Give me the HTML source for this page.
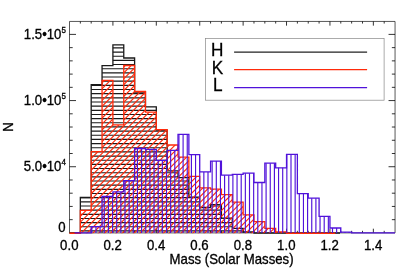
<!DOCTYPE html>
<html><head><meta charset="utf-8"><title>Mass histogram</title>
<style>html,body{margin:0;padding:0;background:#fff;}svg{display:block;will-change:transform;}</style></head>
<body>
<svg width="415" height="277" viewBox="0 0 415 277">
<rect width="100%" height="100%" fill="#fff"/>
<defs><clipPath id="ch"><polygon points="69.50,233.00 69.50,233.00 80.35,233.00 80.35,197.50 91.20,197.50 91.20,84.70 102.06,84.70 102.06,65.60 112.91,65.60 112.91,44.80 123.76,44.80 123.76,58.00 134.61,58.00 134.61,92.00 145.46,92.00 145.46,106.80 156.31,106.80 156.31,130.20 167.16,130.20 167.16,170.90 178.02,170.90 178.02,177.60 188.87,177.60 188.87,197.20 199.72,197.20 199.72,207.50 210.57,207.50 210.57,204.70 221.42,204.70 221.42,218.20 232.28,218.20 232.28,228.40 243.13,228.40 243.13,232.00 253.98,232.00 253.98,233.00 264.83,233.00 264.83,233.00 275.68,233.00 275.68,233.00 286.53,233.00 286.53,233.00 297.38,233.00 297.38,233.00 308.24,233.00 308.24,233.00 319.09,233.00 319.09,233.00 329.94,233.00 329.94,233.00 340.79,233.00 340.79,233.00 351.64,233.00 351.64,233.00 362.50,233.00 362.50,233.00 373.35,233.00 373.35,233.00 384.20,233.00 384.20,233.00 395.05,233.00 395.05,233.00"/></clipPath><clipPath id="ck"><polygon points="69.50,233.25 69.50,233.25 80.35,233.25 80.35,210.30 91.20,210.30 91.20,151.60 102.06,151.60 102.06,80.40 112.91,80.40 112.91,124.90 123.76,124.90 123.76,65.50 134.61,65.50 134.61,91.50 145.46,91.50 145.46,112.20 156.31,112.20 156.31,129.70 167.16,129.70 167.16,145.00 178.02,145.00 178.02,157.20 188.87,157.20 188.87,176.40 199.72,176.40 199.72,187.80 210.57,187.80 210.57,189.20 221.42,189.20 221.42,194.70 232.28,194.70 232.28,202.20 243.13,202.20 243.13,214.90 253.98,214.90 253.98,221.60 264.83,221.60 264.83,228.40 275.68,228.40 275.68,231.90 286.53,231.90 286.53,233.25 297.38,233.25 297.38,233.25 308.24,233.25 308.24,233.25 319.09,233.25 319.09,233.25 329.94,233.25 329.94,233.25 340.79,233.25 340.79,233.25 351.64,233.25 351.64,233.25 362.50,233.25 362.50,233.25 373.35,233.25 373.35,233.25 384.20,233.25 384.20,233.25 395.05,233.25 395.05,233.25"/></clipPath><clipPath id="cl"><polygon points="69.50,232.90 69.50,232.90 80.35,232.90 80.35,232.90 91.20,232.90 91.20,226.70 102.06,226.70 102.06,196.50 112.91,196.50 112.91,191.90 123.76,191.90 123.76,180.70 134.61,180.70 134.61,148.50 145.46,148.50 145.46,149.30 156.31,149.30 156.31,160.40 167.16,160.40 167.16,150.30 178.02,150.30 178.02,134.30 188.87,134.30 188.87,154.70 199.72,154.70 199.72,171.90 210.57,171.90 210.57,161.10 221.42,161.10 221.42,175.20 232.28,175.20 232.28,174.30 243.13,174.30 243.13,173.20 253.98,173.20 253.98,182.50 264.83,182.50 264.83,163.20 275.68,163.20 275.68,167.80 286.53,167.80 286.53,154.40 297.38,154.40 297.38,193.60 308.24,193.60 308.24,198.20 319.09,198.20 319.09,216.30 329.94,216.30 329.94,228.00 340.79,228.00 340.79,232.10 351.64,232.10 351.64,232.90 362.50,232.90 362.50,232.90 373.35,232.90 373.35,232.90 384.20,232.90 384.20,232.90 395.05,232.90 395.05,232.90"/></clipPath></defs>
<path d="M69.50,21.45 H395.05 V232.90 H69.50 Z" fill="none" stroke="#111" stroke-width="0.7"/>
<path d="M80.35,21.45 v2.10 M80.35,232.90 v-2.10 M91.20,21.45 v2.10 M91.20,232.90 v-2.10 M102.06,21.45 v2.10 M102.06,232.90 v-2.10 M112.91,21.45 v4.20 M112.91,232.90 v-4.20 M123.76,21.45 v2.10 M123.76,232.90 v-2.10 M134.61,21.45 v2.10 M134.61,232.90 v-2.10 M145.46,21.45 v2.10 M145.46,232.90 v-2.10 M156.31,21.45 v4.20 M156.31,232.90 v-4.20 M167.16,21.45 v2.10 M167.16,232.90 v-2.10 M178.02,21.45 v2.10 M178.02,232.90 v-2.10 M188.87,21.45 v2.10 M188.87,232.90 v-2.10 M199.72,21.45 v4.20 M199.72,232.90 v-4.20 M210.57,21.45 v2.10 M210.57,232.90 v-2.10 M221.42,21.45 v2.10 M221.42,232.90 v-2.10 M232.28,21.45 v2.10 M232.28,232.90 v-2.10 M243.13,21.45 v4.20 M243.13,232.90 v-4.20 M253.98,21.45 v2.10 M253.98,232.90 v-2.10 M264.83,21.45 v2.10 M264.83,232.90 v-2.10 M275.68,21.45 v2.10 M275.68,232.90 v-2.10 M286.53,21.45 v4.20 M286.53,232.90 v-4.20 M297.38,21.45 v2.10 M297.38,232.90 v-2.10 M308.24,21.45 v2.10 M308.24,232.90 v-2.10 M319.09,21.45 v2.10 M319.09,232.90 v-2.10 M329.94,21.45 v4.20 M329.94,232.90 v-4.20 M340.79,21.45 v2.10 M340.79,232.90 v-2.10 M351.64,21.45 v2.10 M351.64,232.90 v-2.10 M362.50,21.45 v2.10 M362.50,232.90 v-2.10 M373.35,21.45 v4.20 M373.35,232.90 v-4.20 M384.20,21.45 v2.10 M384.20,232.90 v-2.10 M69.50,219.67 h3.20 M395.05,219.67 h-3.20 M69.50,206.43 h3.20 M395.05,206.43 h-3.20 M69.50,193.20 h3.20 M395.05,193.20 h-3.20 M69.50,179.97 h3.20 M395.05,179.97 h-3.20 M69.50,166.73 h6.50 M395.05,166.73 h-6.50 M69.50,153.50 h3.20 M395.05,153.50 h-3.20 M69.50,140.27 h3.20 M395.05,140.27 h-3.20 M69.50,127.03 h3.20 M395.05,127.03 h-3.20 M69.50,113.80 h3.20 M395.05,113.80 h-3.20 M69.50,100.57 h6.50 M395.05,100.57 h-6.50 M69.50,87.33 h3.20 M395.05,87.33 h-3.20 M69.50,74.10 h3.20 M395.05,74.10 h-3.20 M69.50,60.87 h3.20 M395.05,60.87 h-3.20 M69.50,47.63 h3.20 M395.05,47.63 h-3.20 M69.50,34.40 h6.50 M395.05,34.40 h-6.50" fill="none" stroke="#000" stroke-width="0.8"/>
<g clip-path="url(#ch)"><path d="M60,22.94 H400 M60,27.10 H400 M60,31.26 H400 M60,35.42 H400 M60,39.58 H400 M60,43.74 H400 M60,47.90 H400 M60,52.06 H400 M60,56.22 H400 M60,60.38 H400 M60,64.54 H400 M60,68.70 H400 M60,72.86 H400 M60,77.02 H400 M60,81.18 H400 M60,85.34 H400 M60,89.50 H400 M60,93.66 H400 M60,97.82 H400 M60,101.98 H400 M60,106.14 H400 M60,110.30 H400 M60,114.46 H400 M60,118.62 H400 M60,122.78 H400 M60,126.94 H400 M60,131.10 H400 M60,135.26 H400 M60,139.42 H400 M60,143.58 H400 M60,147.74 H400 M60,151.90 H400 M60,156.06 H400 M60,160.22 H400 M60,164.38 H400 M60,168.54 H400 M60,172.70 H400 M60,176.86 H400 M60,181.02 H400 M60,185.18 H400 M60,189.34 H400 M60,193.50 H400 M60,197.66 H400 M60,201.82 H400 M60,205.98 H400 M60,210.14 H400 M60,214.30 H400 M60,218.46 H400 M60,222.62 H400 M60,226.78 H400 M60,230.94 H400" stroke="#1a1a1a" stroke-width="1.15" fill="none"/></g>
<path d="M69.50,233.00 L80.35,233.00 L80.35,197.50 L91.20,197.50 L91.20,84.70 L102.06,84.70 L102.06,65.60 L112.91,65.60 L112.91,44.80 L123.76,44.80 L123.76,58.00 L134.61,58.00 L134.61,92.00 L145.46,92.00 L145.46,106.80 L156.31,106.80 L156.31,130.20 L167.16,130.20 L167.16,170.90 L178.02,170.90 L178.02,177.60 L188.87,177.60 L188.87,197.20 L199.72,197.20 L199.72,207.50 L210.57,207.50 L210.57,204.70 L221.42,204.70 L221.42,218.20 L232.28,218.20 L232.28,228.40 L243.13,228.40 L243.13,232.00 L253.98,232.00 L253.98,233.00 L264.83,233.00 L264.83,233.00 L275.68,233.00 L275.68,233.00 L286.53,233.00 L286.53,233.00 L297.38,233.00 L297.38,233.00 L308.24,233.00 L308.24,233.00 L319.09,233.00 L319.09,233.00 L329.94,233.00 L329.94,233.00 L340.00,233.00" stroke="#1a1a1a" stroke-width="1.3" fill="none"/>
<g clip-path="url(#ck)"><path d="M-408.11,240 L-178.11,10 M-402.23,240 L-172.23,10 M-396.34,240 L-166.34,10 M-390.46,240 L-160.46,10 M-384.58,240 L-154.58,10 M-378.69,240 L-148.69,10 M-372.81,240 L-142.81,10 M-366.93,240 L-136.93,10 M-361.05,240 L-131.05,10 M-355.16,240 L-125.16,10 M-349.28,240 L-119.28,10 M-343.40,240 L-113.40,10 M-337.51,240 L-107.51,10 M-331.63,240 L-101.63,10 M-325.75,240 L-95.75,10 M-319.87,240 L-89.86,10 M-313.98,240 L-83.98,10 M-308.10,240 L-78.10,10 M-302.22,240 L-72.22,10 M-296.33,240 L-66.33,10 M-290.45,240 L-60.45,10 M-284.57,240 L-54.57,10 M-278.68,240 L-48.68,10 M-272.80,240 L-42.80,10 M-266.92,240 L-36.92,10 M-261.03,240 L-31.03,10 M-255.15,240 L-25.15,10 M-249.27,240 L-19.27,10 M-243.39,240 L-13.39,10 M-237.50,240 L-7.50,10 M-231.62,240 L-1.62,10 M-225.74,240 L4.26,10 M-219.85,240 L10.15,10 M-213.97,240 L16.03,10 M-208.09,240 L21.91,10 M-202.20,240 L27.80,10 M-196.32,240 L33.68,10 M-190.44,240 L39.56,10 M-184.56,240 L45.44,10 M-178.67,240 L51.33,10 M-172.79,240 L57.21,10 M-166.91,240 L63.09,10 M-161.02,240 L68.98,10 M-155.14,240 L74.86,10 M-149.26,240 L80.74,10 M-143.38,240 L86.62,10 M-137.49,240 L92.51,10 M-131.61,240 L98.39,10 M-125.73,240 L104.27,10 M-119.84,240 L110.16,10 M-113.96,240 L116.04,10 M-108.08,240 L121.92,10 M-102.19,240 L127.81,10 M-96.31,240 L133.69,10 M-90.43,240 L139.57,10 M-84.54,240 L145.46,10 M-78.66,240 L151.34,10 M-72.78,240 L157.22,10 M-66.90,240 L163.10,10 M-61.01,240 L168.99,10 M-55.13,240 L174.87,10 M-49.25,240 L180.75,10 M-43.36,240 L186.64,10 M-37.48,240 L192.52,10 M-31.60,240 L198.40,10 M-25.71,240 L204.29,10 M-19.83,240 L210.17,10 M-13.95,240 L216.05,10 M-8.07,240 L221.93,10 M-2.18,240 L227.82,10 M3.70,240 L233.70,10 M9.58,240 L239.58,10 M15.47,240 L245.47,10 M21.35,240 L251.35,10 M27.23,240 L257.23,10 M33.12,240 L263.12,10 M39.00,240 L269.00,10 M44.88,240 L274.88,10 M50.76,240 L280.76,10 M56.65,240 L286.65,10 M62.53,240 L292.53,10 M68.41,240 L298.41,10 M74.30,240 L304.30,10 M80.18,240 L310.18,10 M86.06,240 L316.06,10 M91.94,240 L321.94,10 M97.83,240 L327.83,10 M103.71,240 L333.71,10 M109.59,240 L339.59,10 M115.48,240 L345.48,10 M121.36,240 L351.36,10 M127.24,240 L357.24,10 M133.13,240 L363.13,10 M139.01,240 L369.01,10 M144.89,240 L374.89,10 M150.77,240 L380.77,10 M156.66,240 L386.66,10 M162.54,240 L392.54,10 M168.42,240 L398.42,10 M174.31,240 L404.31,10 M180.19,240 L410.19,10 M186.07,240 L416.07,10 M191.96,240 L421.96,10 M197.84,240 L427.84,10 M203.72,240 L433.72,10 M209.60,240 L439.60,10 M215.49,240 L445.49,10 M221.37,240 L451.37,10 M227.25,240 L457.25,10 M233.14,240 L463.14,10 M239.02,240 L469.02,10 M244.90,240 L474.90,10 M250.79,240 L480.79,10 M256.67,240 L486.67,10 M262.55,240 L492.55,10 M268.43,240 L498.43,10 M274.32,240 L504.32,10 M280.20,240 L510.20,10 M286.08,240 L516.08,10 M291.97,240 L521.97,10 M297.85,240 L527.85,10 M303.73,240 L533.73,10 M309.62,240 L539.62,10 M315.50,240 L545.50,10 M321.38,240 L551.38,10 M327.26,240 L557.26,10 M333.15,240 L563.15,10 M339.03,240 L569.03,10 M344.91,240 L574.91,10 M350.80,240 L580.80,10 M356.68,240 L586.68,10 M362.56,240 L592.56,10 M368.45,240 L598.45,10 M374.33,240 L604.33,10 M380.21,240 L610.21,10 M386.10,240 L616.10,10 M391.98,240 L621.98,10 M397.86,240 L627.86,10 M403.74,240 L633.74,10 M409.63,240 L639.63,10 M415.51,240 L645.51,10 M421.39,240 L651.39,10 M427.28,240 L657.28,10 M433.16,240 L663.16,10 M439.04,240 L669.04,10 M444.93,240 L674.93,10 M450.81,240 L680.81,10 M456.69,240 L686.69,10" stroke="#ff2a0a" stroke-width="1.15" fill="none"/></g>
<path d="M69.50,233.25 L80.35,233.25 L80.35,210.30 L91.20,210.30 L91.20,151.60 L102.06,151.60 L102.06,80.40 L112.91,80.40 L112.91,124.90 L123.76,124.90 L123.76,65.50 L134.61,65.50 L134.61,91.50 L145.46,91.50 L145.46,112.20 L156.31,112.20 L156.31,129.70 L167.16,129.70 L167.16,145.00 L178.02,145.00 L178.02,157.20 L188.87,157.20 L188.87,176.40 L199.72,176.40 L199.72,187.80 L210.57,187.80 L210.57,189.20 L221.42,189.20 L221.42,194.70 L232.28,194.70 L232.28,202.20 L243.13,202.20 L243.13,214.90 L253.98,214.90 L253.98,221.60 L264.83,221.60 L264.83,228.40 L275.68,228.40 L275.68,231.90 L286.53,231.90 L286.53,233.25 L297.38,233.25 L297.38,233.25 L308.24,233.25 L308.24,233.25 L319.09,233.25 L319.09,233.25 L329.94,233.25 L329.94,233.25 L335.30,233.25" stroke="#ff2a0a" stroke-width="1.3" fill="none"/>
<g clip-path="url(#cl)"><path d="M71.05,10 V240 M75.20,10 V240 M79.35,10 V240 M83.50,10 V240 M87.65,10 V240 M91.80,10 V240 M95.95,10 V240 M100.10,10 V240 M104.25,10 V240 M108.40,10 V240 M112.55,10 V240 M116.70,10 V240 M120.85,10 V240 M125.00,10 V240 M129.15,10 V240 M133.30,10 V240 M137.45,10 V240 M141.60,10 V240 M145.75,10 V240 M149.90,10 V240 M154.05,10 V240 M158.20,10 V240 M162.35,10 V240 M166.50,10 V240 M170.65,10 V240 M174.80,10 V240 M178.95,10 V240 M183.10,10 V240 M187.25,10 V240 M191.40,10 V240 M195.55,10 V240 M199.70,10 V240 M203.85,10 V240 M208.00,10 V240 M212.15,10 V240 M216.30,10 V240 M220.45,10 V240 M224.60,10 V240 M228.75,10 V240 M232.90,10 V240 M237.05,10 V240 M241.20,10 V240 M245.35,10 V240 M249.50,10 V240 M253.65,10 V240 M257.80,10 V240 M261.95,10 V240 M266.10,10 V240 M270.25,10 V240 M274.40,10 V240 M278.55,10 V240 M282.70,10 V240 M286.85,10 V240 M291.00,10 V240 M295.15,10 V240 M299.30,10 V240 M303.45,10 V240 M307.60,10 V240 M311.75,10 V240 M315.90,10 V240 M320.05,10 V240 M324.20,10 V240 M328.35,10 V240 M332.50,10 V240 M336.65,10 V240 M340.80,10 V240 M344.95,10 V240 M349.10,10 V240 M353.25,10 V240 M357.40,10 V240 M361.55,10 V240 M365.70,10 V240 M369.85,10 V240 M374.00,10 V240 M378.15,10 V240 M382.30,10 V240 M386.45,10 V240 M390.60,10 V240 M394.75,10 V240" stroke="#5012da" stroke-width="1.15" fill="none"/></g>
<path d="M74.60,232.90 L80.35,232.90 L80.35,232.90 L91.20,232.90 L91.20,226.70 L102.06,226.70 L102.06,196.50 L112.91,196.50 L112.91,191.90 L123.76,191.90 L123.76,180.70 L134.61,180.70 L134.61,148.50 L145.46,148.50 L145.46,149.30 L156.31,149.30 L156.31,160.40 L167.16,160.40 L167.16,150.30 L178.02,150.30 L178.02,134.30 L188.87,134.30 L188.87,154.70 L199.72,154.70 L199.72,171.90 L210.57,171.90 L210.57,161.10 L221.42,161.10 L221.42,175.20 L232.28,175.20 L232.28,174.30 L243.13,174.30 L243.13,173.20 L253.98,173.20 L253.98,182.50 L264.83,182.50 L264.83,163.20 L275.68,163.20 L275.68,167.80 L286.53,167.80 L286.53,154.40 L297.38,154.40 L297.38,193.60 L308.24,193.60 L308.24,198.20 L319.09,198.20 L319.09,216.30 L329.94,216.30 L329.94,228.00 L340.79,228.00 L340.79,232.10 L351.64,232.10 L351.64,232.90 L362.50,232.90 L362.50,232.90 L373.35,232.90 L373.35,232.90 L384.20,232.90 L384.20,232.90 L395.05,232.90" stroke="#5012da" stroke-width="1.3" fill="none"/>
<rect x="205.4" y="38.4" width="178.7" height="61.8" fill="#fff" stroke="#888" stroke-width="0.7"/>
<path d="M234.1,52.00 H367.1" stroke="#222" stroke-width="1.25"/>
<path d="M234.1,69.65 H367.1" stroke="#ff2a0a" stroke-width="1.25"/>
<path d="M234.1,87.60 H367.1" stroke="#5012da" stroke-width="1.25"/>
<text transform="translate(217.10,56.30) scale(1,1.045)" font-family="Liberation Sans, sans-serif" font-size="17.20" text-anchor="middle" stroke="#000" stroke-width="0.3">H</text>
<text transform="translate(217.60,73.80) scale(1,1.045)" font-family="Liberation Sans, sans-serif" font-size="17.20" text-anchor="middle" stroke="#000" stroke-width="0.3">K</text>
<text transform="translate(217.90,91.40) scale(1,1.045)" font-family="Liberation Sans, sans-serif" font-size="17.20" text-anchor="middle" stroke="#000" stroke-width="0.3">L</text>
<text transform="translate(69.30,249.80) scale(1,1.045)" font-family="Liberation Sans, sans-serif" font-size="13.20" text-anchor="middle" stroke="#000" stroke-width="0.3">0.0</text>
<text transform="translate(112.70,249.80) scale(1,1.045)" font-family="Liberation Sans, sans-serif" font-size="13.20" text-anchor="middle" stroke="#000" stroke-width="0.3">0.2</text>
<text transform="translate(156.10,249.80) scale(1,1.045)" font-family="Liberation Sans, sans-serif" font-size="13.20" text-anchor="middle" stroke="#000" stroke-width="0.3">0.4</text>
<text transform="translate(199.50,249.80) scale(1,1.045)" font-family="Liberation Sans, sans-serif" font-size="13.20" text-anchor="middle" stroke="#000" stroke-width="0.3">0.6</text>
<text transform="translate(242.90,249.80) scale(1,1.045)" font-family="Liberation Sans, sans-serif" font-size="13.20" text-anchor="middle" stroke="#000" stroke-width="0.3">0.8</text>
<text transform="translate(286.30,249.80) scale(1,1.045)" font-family="Liberation Sans, sans-serif" font-size="13.20" text-anchor="middle" stroke="#000" stroke-width="0.3">1.0</text>
<text transform="translate(329.70,249.80) scale(1,1.045)" font-family="Liberation Sans, sans-serif" font-size="13.20" text-anchor="middle" stroke="#000" stroke-width="0.3">1.2</text>
<text transform="translate(373.10,249.80) scale(1,1.045)" font-family="Liberation Sans, sans-serif" font-size="13.20" text-anchor="middle" stroke="#000" stroke-width="0.3">1.4</text>
<text transform="translate(231.60,264.40) scale(1,1.045)" font-family="Liberation Sans, sans-serif" font-size="13.20" text-anchor="middle" stroke="#000" stroke-width="0.3">Mass (Solar Masses)</text>
<text transform="translate(65.90,38.80) scale(1,1.045)" font-family="Liberation Sans, sans-serif" font-size="13.20" text-anchor="end" stroke="#000" stroke-width="0.3">1.5•10<tspan font-size="8.0" dy="-5.4">5</tspan></text>
<text transform="translate(65.90,104.97) scale(1,1.045)" font-family="Liberation Sans, sans-serif" font-size="13.20" text-anchor="end" stroke="#000" stroke-width="0.3">1.0•10<tspan font-size="8.0" dy="-5.4">5</tspan></text>
<text transform="translate(65.90,171.13) scale(1,1.045)" font-family="Liberation Sans, sans-serif" font-size="13.20" text-anchor="end" stroke="#000" stroke-width="0.3">5.0•10<tspan font-size="8.0" dy="-5.4">4</tspan></text>
<text transform="translate(65.70,232.20) scale(1,1.045)" font-family="Liberation Sans, sans-serif" font-size="13.20" text-anchor="end" stroke="#000" stroke-width="0.3">0</text>
<text transform="translate(13.00,127.00) rotate(-90) scale(1,1.045)" font-family="Liberation Sans, sans-serif" font-size="13.20" text-anchor="middle" stroke="#000" stroke-width="0.3">N</text>
</svg>
</body></html>
